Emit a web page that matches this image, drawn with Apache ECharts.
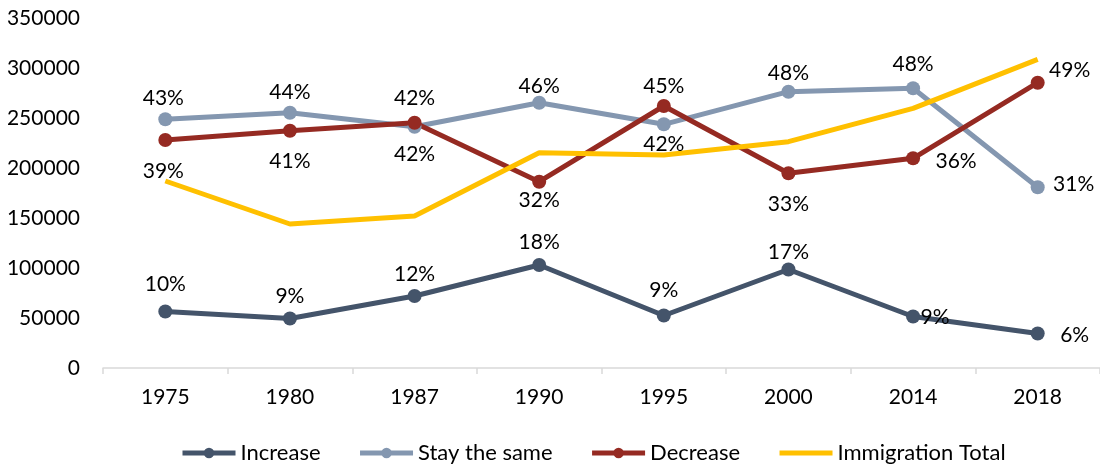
<!DOCTYPE html>
<html>
<head>
<meta charset="utf-8">
<script src="https://cdn.jsdelivr.net/npm/echarts@6/dist/echarts.min.js"></script>
<style>
html, body { margin: 0; padding: 0; background: #fff; }
#chart { width: 1100px; height: 466px; }
</style>
</head>
<body>
<div id="chart"></div>
<script>
var years = ['1975', '1980', '1987', '1990', '1995', '2000', '2014', '2018'];

var increase = [56500, 49500, 72000, 103000, 52500, 98500, 51500, 34500];
var stayTheSame = [248700, 255300, 241300, 265300, 243700, 276300, 279700, 180700];
var decrease = [228000, 237300, 245300, 186300, 262000, 194700, 209700, 285300];
var immigrationTotal = [187000, 144000, 152000, 215300, 213000, 226300, 259700, 308700];

var increasePct = ['10%', '9%', '12%', '18%', '9%', '17%', '9%', '6%'];
var stayPct = ['43%', '44%', '42%', '46%', '42%', '48%', '48%', '31%'];
var decreasePct = ['39%', '41%', '42%', '32%', '45%', '33%', '36%', '49%'];

// where each percentage label sits, relative to its point
var increaseLabelAt = [[0, -27], [0, -22], [0, -22], [0, -23], [0, -25], [0, -17], [22, 1], [37, 2]];
var stayLabelAt = [[-2, -21], [0, -20], [0, 28], [0, -16], [0, 20], [0, -18], [0, -24], [36, -3]];
var decreaseLabelAt = [[-2, 31], [0, 31], [0, -24], [0, 19], [0, -20], [0, 31], [43, 3], [32, -12]];

var FONT = 'Lato, "Open Sans", sans-serif';

function pointsWithLabels(values, pcts, at) {
    return values.map(function (v, i) {
        return {
            value: v,
            label: { formatter: pcts[i], offset: at[i] }
        };
    });
}

function markedLine(name, color, values, pcts, at) {
    return {
        name: name,
        type: 'line',
        data: pointsWithLabels(values, pcts, at),
        symbol: 'circle',
        symbolSize: 14,
        lineStyle: { color: color, width: 5 },
        itemStyle: { color: color },
        label: {
            show: true,
            position: 'inside',
            color: '#000',
            fontSize: 21,
            fontFamily: FONT
        },
        emphasis: { disabled: true },
        animation: false
    };
}

var chart = echarts.init(document.getElementById('chart'));
chart.setOption({
    backgroundColor: '#fff',
    textStyle: { fontFamily: FONT },
    grid: { left: 103, right: -4, top: 18, bottom: 98 },
    legend: {
        top: 437,
        left: 175,
        itemWidth: 53,
        itemHeight: 13,
        itemGap: 37,
        lineStyle: { width: 5 },
        textStyle: { fontSize: 22, color: '#000', fontFamily: FONT },
        data: [
            'Increase',
            'Stay the same',
            'Decrease',
            { name: 'Immigration Total', itemStyle: { opacity: 0 } }
        ]
    },
    xAxis: {
        type: 'category',
        data: years,
        axisLine: { lineStyle: { color: '#D9D9D9', width: 1.5 } },
        axisTick: { show: true, length: 6, lineStyle: { color: '#D9D9D9', width: 1.5 } },
        axisLabel: { color: '#000', fontSize: 21, margin: 19, fontFamily: FONT }
    },
    yAxis: {
        type: 'value',
        min: 0,
        max: 350000,
        interval: 50000,
        axisLine: { show: false },
        axisTick: { show: false },
        splitLine: { show: false },
        axisLabel: {
            color: '#000',
            fontSize: 21,
            margin: 23,
            fontFamily: FONT,
            formatter: function (v) { return String(v); }
        }
    },
    series: [
        markedLine('Increase', '#44546A', increase, increasePct, increaseLabelAt),
        markedLine('Stay the same', '#8497B0', stayTheSame, stayPct, stayLabelAt),
        markedLine('Decrease', '#952A22', decrease, decreasePct, decreaseLabelAt),
        {
            name: 'Immigration Total',
            type: 'line',
            data: immigrationTotal,
            symbol: 'none',
            lineStyle: { color: '#FFC000', width: 5 },
            itemStyle: { color: '#FFC000' },
            emphasis: { disabled: true },
            animation: false
        }
    ]
});
</script>
</body>
</html>
